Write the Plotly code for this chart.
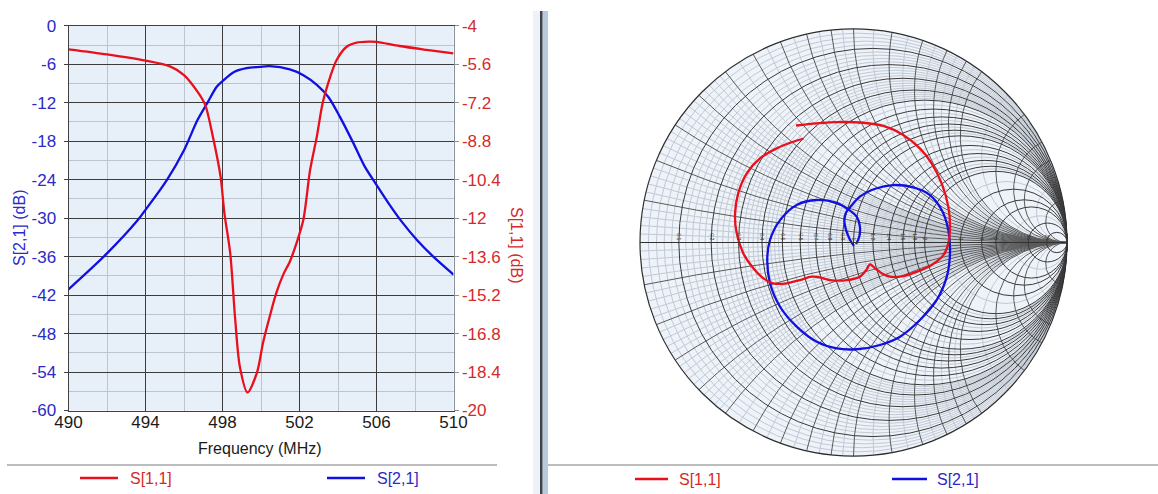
import numpy as np
import plotly.graph_objects as go

W, H = 1158, 494

# ---------------- data ----------------
s11_freq = [490, 492, 494, 495.3, 496, 496.7, 497.1, 497.5, 497.9, 498.1, 498.4, 498.65,
            498.9, 499.3, 499.8, 500.1, 500.45, 500.8, 501.15, 501.5, 501.85, 502.2,
            502.55, 502.9, 503.2, 503.6, 503.93, 504.45, 504.97, 505.6, 506, 507.2,
            508.6, 510]
s11_db = [-4.98, -5.19, -5.45, -5.70, -6.05, -6.74, -7.29, -8.61, -10.27, -11.8, -13.45,
          -16.1, -18.17, -19.25, -18.4, -17.2, -16.1, -15.1, -14.36, -13.8, -13.03, -12.07,
          -10.0, -8.61, -7.22, -6.11, -5.42, -4.87, -4.70, -4.66, -4.67, -4.84, -5.0, -5.15]

s21_freq = [490, 492, 493.6, 494, 495.1, 496, 496.7, 497.2, 497.7, 498.05, 498.6, 499.25,
            499.95, 500.45, 501.5, 502.2, 502.9, 503.5, 504.1, 504.8, 505.4, 506, 506.7,
            507.3, 508.1, 508.95, 510]
s21_db = [-41.1, -35.5, -30.3, -28.7, -24.1, -19.4, -14.7, -12.1, -9.5, -8.5, -7.2, -6.6,
          -6.4, -6.3, -6.8, -7.7, -9.2, -11.1, -14.2, -18.3, -22.0, -24.8, -28.0, -30.5,
          -33.4, -36.0, -38.8]

# Smith chart traces as reflection coefficient (Re, Im)
s11_gamma_re = [-0.269, -0.172, -0.079, 0.046, 0.140, 0.233, 0.311, 0.366, 0.413, 0.444,
                0.452, 0.444, 0.421, 0.366, 0.296, 0.233, 0.171, 0.132, 0.101, 0.077,
                0.062, 0.030, -0.032, -0.110, -0.157, -0.196, -0.251, -0.313, -0.376,
                -0.422, -0.469, -0.516, -0.547, -0.555, -0.540, -0.500, -0.438, -0.360,
                -0.282, -0.235]
s11_gamma_im = [0.548, 0.558, 0.564, 0.561, 0.546, 0.504, 0.441, 0.371, 0.277, 0.168,
                0.074, -0.004, -0.059, -0.105, -0.137, -0.157, -0.160, -0.144, -0.121,
                -0.102, -0.126, -0.160, -0.176, -0.176, -0.163, -0.160, -0.176, -0.191,
                -0.191, -0.168, -0.121, -0.051, 0.043, 0.137, 0.230, 0.324, 0.394, 0.441,
                0.472, 0.486]

s21_gamma_re = [0.002, -0.016, -0.035, -0.043, -0.035, -0.016, 0.030, 0.109, 0.186, 0.280,
                0.358, 0.413, 0.444, 0.452, 0.437, 0.390, 0.311, 0.218, 0.124, 0.015,
                -0.079, -0.172, -0.266, -0.344, -0.391, -0.404, -0.391, -0.344, -0.266,
                -0.172, -0.079, -0.024, 0.015, 0.030, 0.027, 0.012]
s21_gamma_im = [-0.016, 0.012, 0.059, 0.105, 0.140, 0.165, 0.215, 0.254, 0.269, 0.258,
                0.222, 0.152, 0.059, -0.051, -0.160, -0.269, -0.363, -0.441, -0.480, -0.500,
                -0.496, -0.465, -0.394, -0.301, -0.191, -0.082, 0.012, 0.105, 0.176, 0.199,
                0.186, 0.155, 0.121, 0.074, 0.027, -0.007]

x_ticks = [490, 494, 498, 502, 506, 510]
x_labels = ["490", "494", "498", "502", "506", "510"]
y_left_ticks = [0, -6, -12, -18, -24, -30, -36, -42, -48, -54, -60]
y_left_labels = ["0", "-6", "-12", "-18", "-24", "-30", "-36", "-42", "-48", "-54", "-60"]
y_right_ticks = [-4, -5.6, -7.2, -8.8, -10.4, -12, -13.6, -15.2, -16.8, -18.4, -20]
y_right_labels = ["-4", "-5.6", "-7.2", "-8.8", "-10.4", "-12", "-13.6", "-15.2", "-16.8", "-18.4", "-20"]

smith_r_major = [0.1, 0.2, 0.3, 0.4, 0.5, 0.6, 0.7, 0.8, 0.9, 1, 1.2, 1.4, 1.6, 1.8, 2, 3, 4, 5, 10, 20]
smith_x_major = [0.1, 0.2, 0.3, 0.4, 0.5, 0.6, 0.7, 0.8, 0.9, 1, 1.2, 1.4, 1.6, 1.8, 2, 3, 4, 5, 10]
smith_minor = [0.02, 0.04, 0.06, 0.08, 0.12, 0.14, 0.16, 0.18, 0.22, 0.24, 0.26, 0.28, 0.32,
               0.34, 0.36, 0.38, 0.42, 0.44, 0.46, 0.48, 0.55, 0.65, 0.75, 0.85, 0.95, 1.1,
               1.3, 1.5, 1.7, 1.9, 2.5, 7]

# ---------------- helpers ----------------
def px(x):
    return x / W

def py(y):
    return 1 - y / H

def both_signs(vals):
    return [-v for v in vals] + list(vals)

RED = "#e8101c"
BLUE = "#1010e0"
RED_T = "#d42a2a"
BLUE_T = "#2a2ac8"
FONT = "Arial, Liberation Sans, sans-serif"

def to_z(re, im):
    g = np.array(re) + 1j * np.array(im)
    z = (1 + g) / (1 - g)
    return z.real, z.imag

fig = go.Figure()

fig.add_trace(go.Scatter(x=s21_freq, y=s21_db, mode="lines", line=dict(color=BLUE, width=2.3, shape="spline", smoothing=0.8),
                         xaxis="x", yaxis="y", showlegend=False))
fig.add_trace(go.Scatter(x=s11_freq, y=s11_db, mode="lines", line=dict(color=RED, width=2.3, shape="spline", smoothing=0.8),
                         xaxis="x", yaxis="y2", showlegend=False))

r11, x11 = to_z(s11_gamma_re, s11_gamma_im)
r21, x21 = to_z(s21_gamma_re, s21_gamma_im)
# empty trace so that the minor-grid Smith layer is rendered
fig.add_trace(go.Scattersmith(real=[], imag=[], mode="lines", subplot="smith", showlegend=False, hoverinfo="skip"))
fig.add_trace(go.Scattersmith(real=r21, imag=x21, mode="lines", line=dict(color=BLUE, width=2.3, shape="spline"),
                              subplot="smith2", showlegend=False))
fig.add_trace(go.Scattersmith(real=r11, imag=x11, mode="lines", line=dict(color=RED, width=2.3, shape="spline"),
                              subplot="smith2", showlegend=False))

xd = [px(68.5), px(453.5)]
yd = [py(410.5), py(25.8)]
sd_x = [px(640), px(1067)]
sd_y = [py(456), py(29)]

fig.update_layout(
    width=W, height=H, margin=dict(l=0, r=0, t=0, b=0, pad=0, autoexpand=False),
    paper_bgcolor="white", plot_bgcolor="#e7eff9",
    font=dict(family=FONT, size=16),
    showlegend=False,
    xaxis=dict(domain=xd, range=[490, 510], tickvals=x_ticks, ticktext=x_labels, showgrid=True, gridcolor="#3c3c3c", gridwidth=1,
               minor=dict(dtick=2, tick0=490, showgrid=True, gridcolor="#bcc4cf", gridwidth=1),
               showline=True, linecolor="#404040", mirror=True, zeroline=False, automargin=False,
               ticklabelstandoff=-4,
               tickfont=dict(color="#1a1a1a", size=17), ticks="", fixedrange=True),
    yaxis=dict(domain=yd, range=[-60, 0], tickvals=y_left_ticks, ticktext=y_left_labels, showgrid=True, gridcolor="#3c3c3c", gridwidth=1,
               minor=dict(dtick=3, tick0=0, showgrid=True, gridcolor="#bcc4cf", gridwidth=1),
               showline=True, linecolor="#404040", zeroline=False, ticks="outside", ticklen=4, tickcolor="#404040",
               ticklabelstandoff=4,
               automargin=False, tickfont=dict(color=BLUE_T, size=17)),
    yaxis2=dict(overlaying="y", side="right", range=[-20, -4], tickvals=y_right_ticks, ticktext=y_right_labels,
                showgrid=False, showline=True, linecolor="#8a9098", zeroline=False, ticks="outside", ticklen=4,
                automargin=False, tickcolor="#8a9098", tickfont=dict(color=RED_T, size=17)),
    smith=dict(domain=dict(x=sd_x, y=sd_y), bgcolor="#eef3fa",
               realaxis=dict(tickvals=smith_minor, showticklabels=False, gridcolor="#c2c9d3", gridwidth=0.7,
                             showline=False, ticks=""),
               imaginaryaxis=dict(tickvals=both_signs(smith_minor), showticklabels=False, gridcolor="#c2c9d3", gridwidth=0.7,
                                  showline=False, ticks="")),
    smith2=dict(domain=dict(x=sd_x, y=sd_y), bgcolor="rgba(0,0,0,0)",
                realaxis=dict(tickvals=smith_r_major, showticklabels=True, gridcolor="#3a3a3a", gridwidth=0.8,
                              linecolor="#333333", tickfont=dict(size=5, color="#333333"), ticks=""),
                imaginaryaxis=dict(tickvals=both_signs(smith_x_major), showticklabels=False, gridcolor="#5a5a5a", gridwidth=0.7,
                                   linecolor="#2e2e2e", linewidth=1.2, ticks="")),
)

annotations = [
    dict(text="S[2,1] (dB)", x=px(19), y=py(228), textangle=-90, font=dict(color=BLUE_T, size=16)),
    dict(text="S[1,1] (dB)", x=px(517), y=py(245), textangle=90, font=dict(color=RED_T, size=16)),
    dict(text="Frequency (MHz)", x=px(260), y=py(448), font=dict(color="#1a1a1a", size=16)),
    dict(text="S[1,1]", x=px(128), y=py(478), xanchor="left", font=dict(color=RED_T, size=16)),
    dict(text="S[2,1]", x=px(375), y=py(478), xanchor="left", font=dict(color=BLUE_T, size=16)),
    dict(text="S[1,1]", x=px(677), y=py(479), xanchor="left", font=dict(color=RED_T, size=16)),
    dict(text="S[2,1]", x=px(935), y=py(479), xanchor="left", font=dict(color=BLUE_T, size=16)),
]
for a in annotations:
    a.update(xref="paper", yref="paper", showarrow=False)
    a.setdefault("xanchor", "center")
    a["yanchor"] = "middle"
fig.update_layout(annotations=annotations)

shapes = [
    # legend separators
    dict(type="line", x0=px(7), x1=px(497), y0=py(465), y1=py(465), line=dict(color="#7a7a7a", width=1)),
    dict(type="line", x0=px(548), x1=1, y0=py(465), y1=py(465), line=dict(color="#7a7a7a", width=1)),
    # legend samples
    dict(type="line", x0=px(80), x1=px(118), y0=py(478), y1=py(478), line=dict(color=RED, width=2.5)),
    dict(type="line", x0=px(327), x1=px(365), y0=py(478), y1=py(478), line=dict(color=BLUE, width=2.5)),
    dict(type="line", x0=px(635), x1=px(668), y0=py(479), y1=py(479), line=dict(color=RED, width=2.5)),
    dict(type="line", x0=px(892), x1=px(927), y0=py(479), y1=py(479), line=dict(color=BLUE, width=2.5)),
    # divider
    dict(type="rect", x0=px(533), x1=px(540), y0=0, y1=py(11), line=dict(width=0), fillcolor="#eef1f6"),
    dict(type="rect", x0=px(540), x1=px(542.7), y0=0, y1=py(11), line=dict(width=0), fillcolor="#3e434c"),
    dict(type="rect", x0=px(542.7), x1=px(548), y0=0, y1=py(11), line=dict(width=0), fillcolor="#b9c9dc"),
]
for s in shapes:
    s.update(xref="paper", yref="paper", layer="above")
fig.update_layout(shapes=shapes)

fig.write_html("out.html")
